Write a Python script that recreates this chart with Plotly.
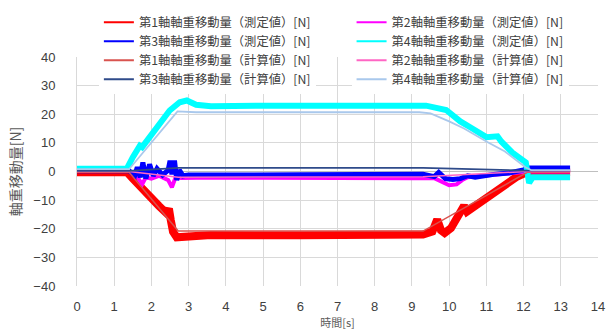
import plotly.graph_objects as go

# ---- data ----
t_m1 = [0, 1.35, 1.5, 1.7, 2.0, 2.2, 2.4, 2.47, 2.52, 2.58, 2.68, 2.85, 3.2, 3.6, 6.0, 9.3, 9.55, 9.68, 9.78, 9.88, 10.05, 10.2, 10.32, 10.4, 10.48, 10.8, 11.1, 11.45, 11.8, 12.05, 12.2, 13.25]
v_m1 = [-0.3, -0.3, -2.5, -5.5, -9.5, -12, -14.5, -13, -17, -21, -23.0, -22.8, -22.3, -22.2, -22.3, -22.0, -21.0, -16.8, -20.5, -21.5, -19.8, -16.5, -13.8, -12, -14, -11, -8.5, -5.5, -2, -0.5, -0.3, -0.3]

t_m2 = [0, 1.4, 1.6, 1.75, 1.85, 2.0, 2.2, 2.45, 2.55, 2.65, 2.8, 3.2, 5.0, 7.0, 9.0, 9.6, 9.8, 10.0, 10.2, 10.35, 10.5, 11.0, 11.5, 12.0, 12.15, 13.25]
v_m2 = [0.2, 0.2, -1.5, -4.5, -2, -2.5, -1.5, -3, -5.5, -2, -2.3, -2.2, -2.2, -2.4, -2.4, -2.3, -3.5, -4.8, -4.5, -3, -2, -1.5, -1, -0.5, 0, 0]

t_m3 = [0, 1.4, 1.55, 1.62, 1.7, 1.77, 1.85, 1.95, 2.05, 2.15, 2.3, 2.45, 2.5, 2.55, 2.62, 2.68, 2.75, 2.85, 3.0, 3.5, 4.5, 6.0, 7.5, 8.5, 9.3, 9.6, 9.72, 9.9, 10.1, 10.3, 10.5, 10.7, 10.9, 11.2, 11.6, 12.0, 12.1, 13.25]
v_m3 = [0.3, 0.3, -1.5, 1.5, -2, 3.2, -2.5, 2.5, -1.5, 1, -1.2, 0.5, 3.8, -1, 3.8, -3, 0.5, -1.5, -1.2, -1.1, -1.2, -1.1, -1.0, -1.1, -1.0, -1.8, -0.3, -2.5, -2.8, -2.5, -1.5, -2, -1.5, -1, -0.5, 0.5, 1.2, 1.2]

t_m4 = [0, 1.34, 1.5, 1.69, 1.75, 1.96, 2.23, 2.49, 2.76, 2.95, 3.2, 3.6, 5.0, 7.0, 9.38, 9.92, 10.3, 10.6, 11.0, 11.3, 11.4, 11.7, 12.06, 12.15, 12.25, 13.25]
v_m4 = [1.0, 1.0, 5.0, 9.0, 8.5, 12.0, 16.7, 21.3, 24.2, 24.8, 23.3, 22.8, 23.0, 23.2, 23.0, 21.5, 17.5, 15.2, 12.0, 12.3, 10.5, 6.6, 3.2, -4.0, -2.0, -2.0]

t_c = [0, 1.4, 2.72, 9.3, 12.1, 13.25]
v_c1 = [-0.3, -0.3, -20.8, -20.8, -0.3, -0.3]
v_c2 = [0.0, 0.0, -2.0, -1.8, 0.0, 0.0]
v_c3 = [0.2, 0.2, 1.3, 1.3, 0.3, 0.3]

t_c4 = [0, 1.4, 2.7, 3.2, 9.2, 9.5, 10.0, 10.4, 11.0, 11.5, 12.05, 12.2, 13.25]
v_c4 = [0.8, 0.8, 21.0, 20.7, 20.7, 20.3, 17.5, 15.0, 10.5, 7.0, 1.5, 0.5, 0.5]

names = [
    "第1軸軸重移動量（測定値）[N]", "第2軸軸重移動量（測定値）[N]",
    "第3軸軸重移動量（測定値）[N]", "第4軸軸重移動量（測定値）[N]",
    "第1軸軸重移動量（計算値）[N]", "第2軸軸重移動量（計算値）[N]",
    "第3軸軸重移動量（計算値）[N]", "第4軸軸重移動量（計算値）[N]",
]
x_ticks = list(range(0, 15))
y_ticks = list(range(-40, 41, 10))

series = [
    (t_m1, v_m1, "#FF0000", 8),
    (t_m2, v_m2, "#FF00FF", 4),
    (t_m3, v_m3, "#0000FF", 5),
    (t_m4, v_m4, "#00FFFF", 6),
    (t_c, v_c1, "#D9534F", 1.5),
    (t_c, v_c2, "#FF66C4", 1.5),
    (t_c, v_c3, "#2F4B8A", 1.8),
    (t_c4, v_c4, "#A9C8EC", 1.8),
]

fig = go.Figure()
for (tx, vy, col, w), nm in zip(series, names):
    fig.add_trace(go.Scatter(x=tx, y=vy, mode="lines", name=nm, showlegend=False,
                             line=dict(color=col, width=w)))
# legend entries with thin line samples: left column / right column
for i, ((tx, vy, col, w), nm) in enumerate(zip(series, names)):
    fig.add_trace(go.Scatter(x=[None], y=[None], mode="lines", name=nm,
                             legend="legend" if i % 2 == 0 else "legend2",
                             line=dict(color=col, width=2)))

font_fam = "Liberation Sans, Noto Sans CJK JP, sans-serif"
leg_common = dict(
    orientation="v", yanchor="top", xanchor="left", y=1.215,
    bgcolor="white", font=dict(size=12.3, family="Noto Sans CJK JP", color="#404040"),
    itemwidth=30, tracegroupgap=0, borderwidth=0,
)
fig.update_layout(
    width=611, height=331,
    margin=dict(l=77, r=13, t=57, b=45, autoexpand=False),
    paper_bgcolor="white", plot_bgcolor="white",
    font=dict(family=font_fam, color="#404040", size=13),
    showlegend=True,
    legend=dict(x=0.042, **leg_common),
    legend2=dict(x=0.527, **leg_common),
    xaxis=dict(
        range=[0, 14], tickvals=x_ticks, showgrid=True, gridcolor="#D9D9D9",
        zeroline=False, showline=False, ticks="", ticklabelstandoff=11,
        title=dict(text="時間[s]", font=dict(size=11, family="Noto Sans CJK JP", color="#595959"), standoff=5),
    ),
    yaxis=dict(
        range=[-40, 40], tickvals=y_ticks, showgrid=True, gridcolor="#D9D9D9",
        zeroline=True, zerolinecolor="#BFBFBF", zerolinewidth=1,
        showline=True, linecolor="#D9D9D9", ticks="", ticklabelstandoff=18,
        title=dict(text="軸重移動量[N]", font=dict(size=14, family="Noto Sans CJK JP", color="#595959"), standoff=8),
    ),
)

fig.write_html("out.html")
